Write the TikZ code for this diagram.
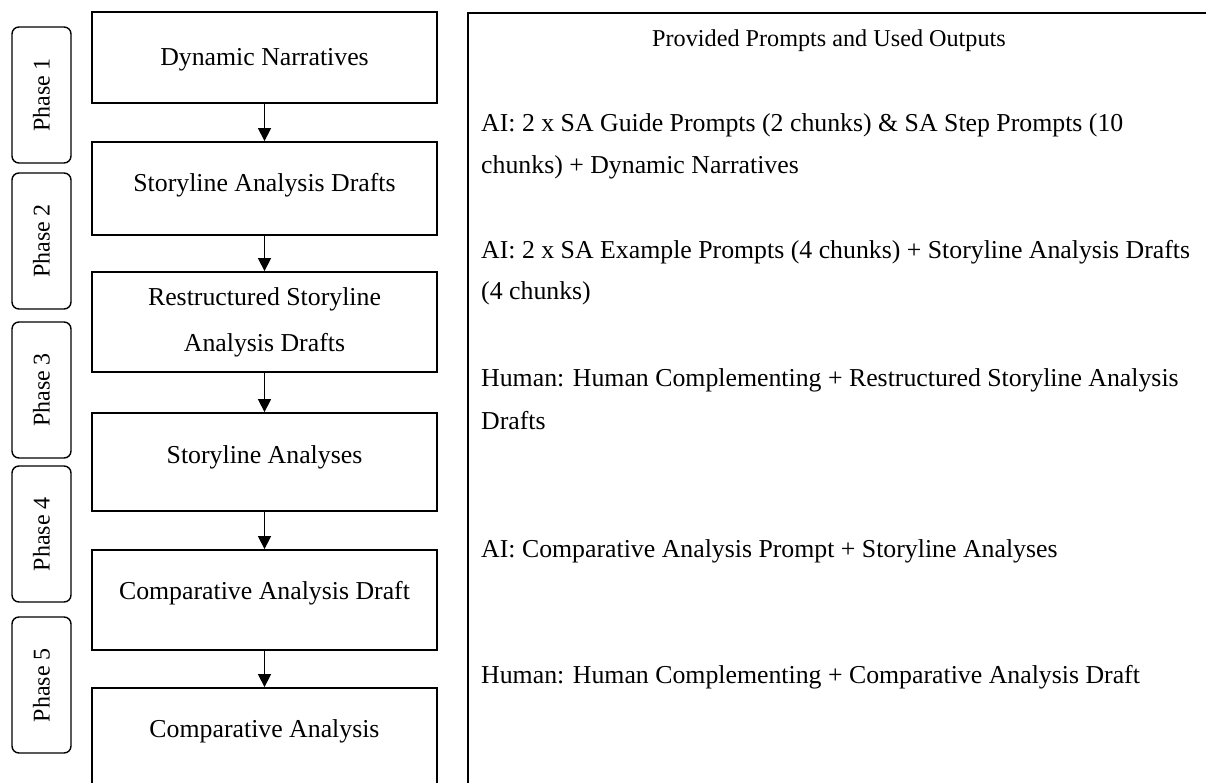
\documentclass[tikz,border=0pt]{standalone}
\usepackage{fontspec}
\setmainfont{Liberation Serif}
\usetikzlibrary{arrows.meta}
\begin{document}
\begin{tikzpicture}[x=1pt,y=-1pt,
  font=\fontsize{25.8}{46}\selectfont,
  stage/.style={draw, line width=1.8pt, minimum width=345pt, align=center},
  lift/.style={text height=17pt, text depth=#1},
  phase/.style={draw, line width=1.4pt, rounded corners=7pt, rotate=90,
    minimum width=136pt, minimum height=59pt, inner sep=0pt,
    font=\fontsize{24}{28}\selectfont},
  panel/.style={draw, line width=1.8pt, anchor=north west,
    minimum width=800pt, minimum height=820pt},
  entry/.style={anchor=base west, inner sep=0pt},
  flow/.style={line width=1.4pt, -{Triangle[width=13pt,length=13pt]}}]
\useasboundingbox (0,0) rectangle (1206,783);
\clip (0,0) rectangle (1206,783);

% phase tags
\node[phase] (p1) at (41.5,95)  {Phase 1};
\node[phase] (p2) at (41.5,241) {Phase 2};
\node[phase] (p3) at (41.5,390) {Phase 3};
\node[phase] (p4) at (41.5,534) {Phase 4};
\node[phase] (p5) at (41.5,685) {Phase 5};

% stages of the process
\node[stage, minimum height=91pt, lift=-2pt] (b1) at (264.5,57.5)  {Dynamic Narratives};
\node[stage, minimum height=93pt, lift=10pt] (b2) at (264.5,188.5) {Storyline Analysis Drafts};
\node[stage, minimum height=100pt]           (b3) at (264.5,322)   {Restructured Storyline\\Analysis Drafts};
\node[stage, minimum height=98pt, lift=14pt] (b4) at (264.5,462)   {Storyline Analyses};
\node[stage, minimum height=100pt, lift=18pt](b5) at (264.5,600)   {Comparative Analysis Draft};
\node[stage, minimum height=120pt, lift=38pt](b6) at (264.5,748)   {Comparative Analysis};

\draw[flow] (b1) -- (b2);
\draw[flow] (b2) -- (b3);
\draw[flow] (b3) -- (b4);
\draw[flow] (b4) -- (b5);
\draw[flow] (b5) -- (b6);

% prompts and outputs panel
\node[panel] (panel) at (467,12) {};
\node[anchor=base, inner sep=0pt, font=\fontsize{24.2}{28}\selectfont] (title) at (829,47) {Provided Prompts and Used Outputs};
\node[entry] (e1a) at (481,132) {AI: 2 x SA Guide Prompts (2 chunks) \& SA Step Prompts (10};
\node[entry] (e1b) at (481,174) {chunks) + Dynamic Narratives};
\node[entry] (e2a) at (481,259) {AI: 2 x SA Example Prompts (4 chunks) + Storyline Analysis Drafts};
\node[entry] (e2b) at (481,300) {(4 chunks)};
\node[entry] (e3a) at (481,386) {Human: Human Complementing + Restructured Storyline Analysis};
\node[entry] (e3b) at (481,429) {Drafts};
\node[entry] (e4)  at (481,557) {AI: Comparative Analysis Prompt + Storyline Analyses};
\node[entry] (e5)  at (481,683) {Human: Human Complementing + Comparative Analysis Draft};
\end{tikzpicture}
\end{document}
